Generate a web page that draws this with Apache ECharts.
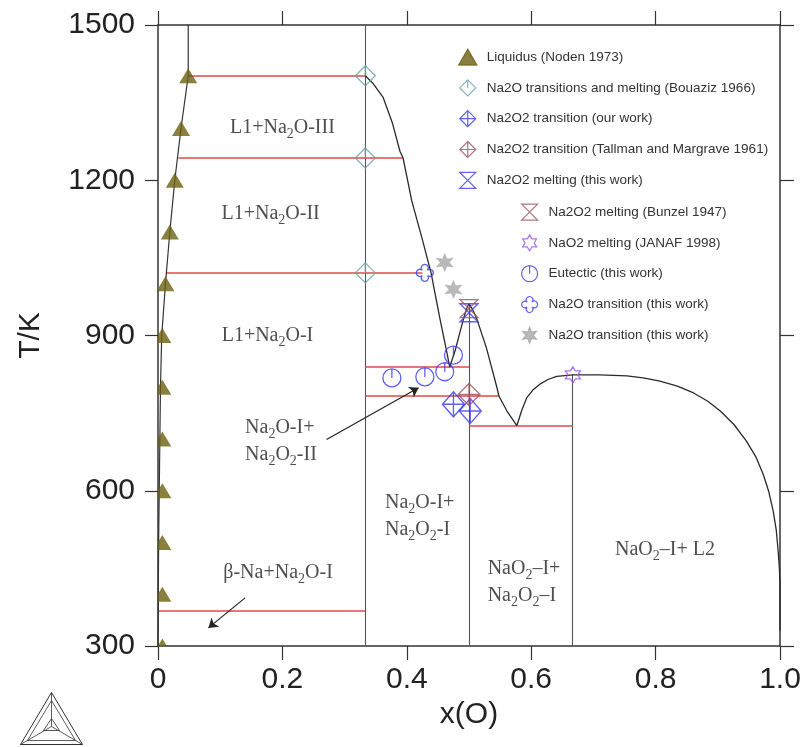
<!DOCTYPE html>
<html><head><meta charset="utf-8">
<script src="https://cdn.jsdelivr.net/npm/echarts@6/dist/echarts.min.js"></script>
<style>html,body{margin:0;padding:0;background:#fff}#c{width:809px;height:747px}</style>
</head><body><div id="c"></div>
<script>
// ---------------- data ----------------
const xTicks = [0, 0.2, 0.4, 0.6, 0.8, 1.0];
const yTicks = [300, 600, 900, 1200, 1500];

// Liquidus (Noden 1973) triangles
const noden_x = [0.0486, 0.037, 0.027, 0.019, 0.012];
const noden_T = [1402, 1300, 1200, 1100, 1000];
const nodenLow_x = [0.007, 0.007, 0.007, 0.007, 0.007, 0.007];
const nodenLow_T = [900, 800, 700, 600, 500, 400];
const nodenBase_x = [0.007];
const nodenBase_T = [300];

// left liquidus curve
const liqL_x = [0.0486, 0.0486, 0.037, 0.027, 0.019, 0.012, 0.006, 0.004, 0.003, 0.002, 0.001, 0.0005, 0.0];
const liqL_T = [1500, 1402, 1300, 1200, 1100, 1000, 900, 800, 700, 600, 500, 400, 300];

// right liquidus + Na2O2 / NaO2 melting curve
const liqR_x = [0.3333, 0.345, 0.362, 0.377, 0.389, 0.394, 0.408, 0.424, 0.439, 0.453, 0.464, 0.469,
                0.478, 0.486, 0.493, 0.498, 0.5, 0.505, 0.512, 0.528, 0.545, 0.548, 0.561, 0.577,
                0.585, 0.593, 0.603, 0.614, 0.627, 0.641, 0.667, 0.71, 0.754, 0.78, 0.807, 0.835, 0.861,
                0.884, 0.904, 0.926, 0.946, 0.961, 0.973, 0.982, 0.989, 0.994, 0.997, 0.999, 1.0, 1.0];
const liqR_T = [1402, 1388, 1360, 1310, 1256, 1243, 1160, 1090, 1021, 934, 870, 839,
                872, 909, 940, 957, 961, 952, 934, 876, 799, 783, 754, 726,
                756, 780, 795, 806, 815, 821, 824, 824, 822, 818, 812, 802, 789,
                773, 754, 728, 696, 666, 632, 598, 561, 524, 484, 450, 420, 330];

// invariant (red) lines: x1, x2, T
const red_x1 = [0.0486, 0.033, 0.013, 0.3333, 0.3333, 0.5, 0.0];
const red_x2 = [0.3333, 0.394, 0.425, 0.5, 0.548, 0.6667, 0.3333];
const red_T  = [1402, 1243, 1021, 839, 783, 726, 368];

// vertical compound lines: x, Tlow, Thigh
const vert_x  = [0.3333, 0.5, 0.6667];
const vert_T1 = [300, 300, 300];
const vert_T2 = [1500, 961, 824];

// experimental points
const bouaziz_x = [0.3333, 0.3333, 0.3333];
const bouaziz_T = [1402, 1243, 1021];
const na2o2trOur_x = [0.475, 0.502];
const na2o2trOur_T = [767, 754];
const tallman_x = [0.5];
const tallman_T = [786];
const meltThis_x = [0.5];
const meltThis_T = [944];
const bunzel_x = [0.5];
const bunzel_T = [952];
const janaf_x = [0.667];
const janaf_T = [824];
const eutectic_x = [0.376, 0.429, 0.461, 0.475];
const eutectic_T = [818, 820, 830, 862];
const na2oTr_x = [0.429];
const na2oTr_T = [1021];
const na2oTrGray_x = [0.461, 0.475];
const na2oTrGray_T = [1041, 989];

// region labels
const lab_x = [0.2, 0.181, 0.176, 0.140, 0.193, 0.365, 0.530, 0.815];
const lab_T = [1301, 1135, 899, 696, 442, 551, 423, 486];
const lab_text = [
  'L1+Na{s|2}O-III',
  'L1+Na{s|2}O-II',
  'L1+Na{s|2}O-I',
  'Na{s|2}O-I+\nNa{s|2}O{s|2}-II',
  'β-Na+Na{s|2}O-I',
  'Na{s|2}O-I+\nNa{s|2}O{s|2}-I',
  'NaO{s|2}–I+\nNa{s|2}O{s|2}–I',
  'NaO{s|2}–I+ L2'
];
const lab_align = ['center', 'center', 'center', 'left', 'center', 'left', 'left', 'center'];

// arrows: from -> to
const arr_x1 = [0.271, 0.140];
const arr_T1 = [699, 393];
const arr_x2 = [0.419, 0.081];
const arr_T2 = [799, 335];

// legend names
const names = [
  'Liquidus (Noden 1973)',
  'Na2O transitions and melting (Bouaziz 1966)',
  'Na2O2 transition (our work)',
  'Na2O2 transition (Tallman and Margrave 1961)',
  'Na2O2 melting (this work)',
  'Na2O2 melting (Bunzel 1947)',
  'NaO2 melting (JANAF 1998)',
  'Eutectic (this work)',
  'Na2O transition (this work)',
  'Na2O transition (this work) '
];

// ---------------- styles ----------------
const OLIVE = '#6b600f', TEAL = '#6aa0a6', BLUE = '#3a3af0', BROWN = '#a0505c', PURPLE = '#9a50ee', GRAY = '#a8a8a8';
const P_TRI = 'path://M0,-7 L8,7 L-8,7 Z';
const P_DIAMOND_LINE = 'path://M0,-10 L10,0 L0,10 L-10,0 Z M0,-10 L0,0';
const P_DIAMOND_CROSS = 'path://M0,-10 L10,0 L0,10 L-10,0 Z M0,-10 L0,10 M-10,0 L10,0';
const P_HOURGLASS = 'path://M-10,-10 L10,-10 L-10,10 L10,10 Z';
const P_HEX = 'path://M0,-10 L2.89,-5 L8.66,-5 L5.77,0 L8.66,5 L2.89,5 L0,10 L-2.89,5 L-8.66,5 L-5.77,0 L-8.66,-5 L-2.89,-5 Z';
const P_HEX_SHARP = 'path://M0,-10 L2.3,-4 L8.66,-5 L4.6,0 L8.66,5 L2.3,4 L0,10 L-2.3,4 L-8.66,5 L-4.6,0 L-8.66,-5 L-2.3,-4 Z';
const P_CIRCLE_TICK = 'path://M0,-10 A10,10 0 1,1 0,10 A10,10 0 1,1 0,-10 Z M0,-10 L0,0';
const P_QUATREFOIL = 'path://M-3,-3 A4,4 0 1,1 3,-3 A4,4 0 1,1 3,3 A4,4 0 1,1 -3,3 A4,4 0 1,1 -3,-3 Z';
const P_TRI_CLIP = 'path://M4.4,0 L13.4,15 L0,15 L0,7.33 Z';
const P_TRI_BASE = 'path://M4.4,0 L8.9,7.5 L0,7.5 Z';

const zip = (a, b) => a.map((v, i) => [v, b[i]]);
const hollow = (c, w) => ({ color: 'rgba(0,0,0,0)', borderColor: c, borderWidth: w || 1.3 });

function scatter(name, xs, ts, symbol, size, itemStyle, extra) {
  return Object.assign({
    type: 'scatter', name, data: zip(xs, ts), symbol, symbolSize: size,
    symbolKeepAspect: false, itemStyle, z: 5, clip: false,
    emphasis: { disabled: true }
  }, extra || {});
}

const redLines = red_T.map((t, i) => ({ coords: [[red_x1[i], t], [red_x2[i], t]] }));
const vertLines = vert_x.map((x, i) => ({ coords: [[x, vert_T1[i]], [x, vert_T2[i]]] }));
const arrows = arr_x1.map((x, i) => ({ coords: [[x, arr_T1[i]], [arr_x2[i], arr_T2[i]]] }));

const SERIF = '"Liberation Serif", "DejaVu Serif", serif';
const SANS = '"Liberation Sans", Arial, sans-serif';

const labelData = lab_x.map((x, i) => ({
  value: [x, lab_T[i]],
  label: { formatter: lab_text[i], align: lab_align[i] }
}));

const legendIcons = [P_TRI, P_DIAMOND_LINE, P_DIAMOND_CROSS, P_DIAMOND_CROSS, P_HOURGLASS,
                     P_HOURGLASS, P_HEX, P_CIRCLE_TICK, P_QUATREFOIL, P_HEX_SHARP];
const legendData = names.map((n, i) => ({ name: n, icon: legendIcons[i] }));
const legendCommon = {
  orient: 'vertical', itemWidth: 28, itemHeight: 16, itemGap: 13.6, padding: 0,
  symbolKeepAspect: true, selectedMode: false,
  itemStyle: { borderWidth: 1.2 },
  textStyle: { fontFamily: SANS, fontSize: 13.5, color: '#333', lineHeight: 16 },
  formatter: n => n.trim()
};

const option = {
  animation: false,
  backgroundColor: '#fff',
  grid: { left: 158, right: 29, top: 25, bottom: 101 },
  xAxis: [{
    type: 'value', min: 0, max: 1, interval: 0.2, position: 'bottom',
    name: 'x(O)', nameLocation: 'middle', nameGap: 54,
    nameTextStyle: { fontFamily: SANS, fontSize: 30, color: '#222' },
    axisLine: { onZero: false, lineStyle: { color: '#333', width: 1.5 } },
    axisTick: { inside: false, length: 14, lineStyle: { color: '#333', width: 1.2 } },
    axisLabel: { fontFamily: SANS, fontSize: 30, color: '#222', margin: 19,
      formatter: v => v === 0 ? '0' : v.toFixed(1) },
    splitLine: { show: false }
  }, {
    type: 'value', min: 0, max: 1, interval: 0.2, position: 'top',
    axisLine: { onZero: false, lineStyle: { color: '#333', width: 1.5 } },
    axisTick: { inside: false, length: 14, lineStyle: { color: '#333', width: 1.2 } },
    axisLabel: { show: false }, splitLine: { show: false }
  }],
  yAxis: [{
    type: 'value', min: 300, max: 1500, interval: 300, position: 'left',
    name: 'T/K', nameLocation: 'middle', nameGap: 112,
    nameTextStyle: { fontFamily: SANS, fontSize: 30, color: '#222' },
    axisLine: { onZero: false, lineStyle: { color: '#333', width: 1.5 } },
    axisTick: { inside: false, length: 13, lineStyle: { color: '#333', width: 1.2 } },
    axisLabel: { fontFamily: SANS, fontSize: 30, color: '#222', margin: 23,
      formatter: v => String(v) },
    splitLine: { show: false }
  }, {
    type: 'value', min: 300, max: 1500, interval: 300, position: 'right',
    axisLine: { onZero: false, lineStyle: { color: '#333', width: 1.5 } },
    axisTick: { inside: false, length: 14, lineStyle: { color: '#333', width: 1.2 } },
    axisLabel: { show: false }, splitLine: { show: false }
  }],
  legend: [
    Object.assign({}, legendCommon, { left: 458, top: 48.5, data: legendData.slice(0, 5) }),
    Object.assign({}, legendCommon, { left: 521, top: 203.5, data: legendData.slice(5, 10) })
  ],
  graphic: [{
    type: 'group', left: 18, top: 690, silent: true,
    children: [
      { type: 'polygon', shape: { points: [[0, 52], [62, 52], [31, 0]] }, style: { fill: 'none', stroke: '#333', lineWidth: 1 } },
      { type: 'polygon', shape: { points: [[7, 48], [55, 48], [31, 8]] }, style: { fill: 'none', stroke: '#333', lineWidth: 0.8 } },
      { type: 'polygon', shape: { points: [[23, 38], [39, 38], [31, 26]] }, style: { fill: 'none', stroke: '#333', lineWidth: 0.8 } },
      { type: 'polyline', shape: { points: [[0, 52], [31, 34]] }, style: { stroke: '#333', lineWidth: 0.8 } },
      { type: 'polyline', shape: { points: [[62, 52], [31, 34]] }, style: { stroke: '#333', lineWidth: 0.8 } },
      { type: 'polyline', shape: { points: [[31, 0], [31, 34]] }, style: { stroke: '#333', lineWidth: 0.8 } }
    ]
  }],
  series: [
    { type: 'lines', coordinateSystem: 'cartesian2d', data: vertLines, z: 2, silent: true,
      lineStyle: { color: '#555', width: 1.1, opacity: 1 } },
    { type: 'lines', coordinateSystem: 'cartesian2d', data: redLines, z: 3, silent: true,
      lineStyle: { color: '#e04848', width: 1.5, opacity: 1 } },
    { type: 'line', data: zip(liqL_x, liqL_T), showSymbol: false, symbol: 'none', z: 3, silent: true,
      lineStyle: { color: '#333', width: 1.2 } },
    { type: 'line', data: zip(liqR_x, liqR_T), showSymbol: false, symbol: 'none', z: 3, silent: true,
      smooth: false, lineStyle: { color: '#2a2a2a', width: 1.3 } },
    { type: 'lines', coordinateSystem: 'cartesian2d', data: arrows, z: 4, silent: true,
      symbol: ['none', 'arrow'], symbolSize: 9,
      lineStyle: { color: '#222', width: 1.2, opacity: 1 } },
    scatter(names[0], noden_x, noden_T, 'triangle', [18, 15], { color: OLIVE, borderColor: OLIVE, borderWidth: 0 }),
    scatter(names[0], nodenLow_x, nodenLow_T, P_TRI_CLIP, [13.4, 15], { color: OLIVE, borderColor: OLIVE, borderWidth: 0 }, { symbolOffset: [2.3, 0] }),
    scatter(names[0], nodenBase_x, nodenBase_T, P_TRI_BASE, [8.9, 7.5], { color: OLIVE, borderColor: OLIVE, borderWidth: 0 }, { symbolOffset: [0.05, -3.75] }),
    scatter(names[1], bouaziz_x, bouaziz_T, P_DIAMOND_LINE, [20, 20], hollow(TEAL, 1.3)),
    scatter(names[2], na2o2trOur_x, na2o2trOur_T, P_DIAMOND_CROSS, [22, 25], hollow(BLUE, 1.4)),
    scatter(names[3], tallman_x, tallman_T, P_DIAMOND_CROSS, [22, 22], hollow(BROWN, 1.3)),
    scatter(names[4], meltThis_x, meltThis_T, P_HOURGLASS, [18, 18], hollow(BLUE, 1.4)),
    scatter(names[5], bunzel_x, bunzel_T, P_HOURGLASS, [18, 18], hollow(BROWN, 1.3)),
    scatter(names[6], janaf_x, janaf_T, P_HEX, [15, 16], hollow(PURPLE, 1.3)),
    scatter(names[7], eutectic_x, eutectic_T, P_CIRCLE_TICK, [18, 18], hollow(BLUE, 1.3)),
    scatter(names[8], na2oTr_x, na2oTr_T, P_QUATREFOIL, [17, 17], hollow(BLUE, 1.4)),
    scatter(names[9], na2oTrGray_x, na2oTrGray_T, P_HEX_SHARP, [17, 18], { color: GRAY, borderColor: GRAY, borderWidth: 0.5 }),
    {
      type: 'scatter', data: labelData, symbolSize: 0, z: 6, silent: true, clip: false,
      label: {
        show: true, position: [0, 0], verticalAlign: 'middle',
        fontFamily: SERIF, fontSize: 20, color: '#222', lineHeight: 27,
        rich: { s: { fontFamily: SERIF, fontSize: 14, lineHeight: 18, verticalAlign: 'bottom', color: '#222' } }
      }
    }
  ]
};

const chart = echarts.init(document.getElementById('c'), null, { renderer: 'canvas' });
chart.setOption(option);
</script>
</body></html>
